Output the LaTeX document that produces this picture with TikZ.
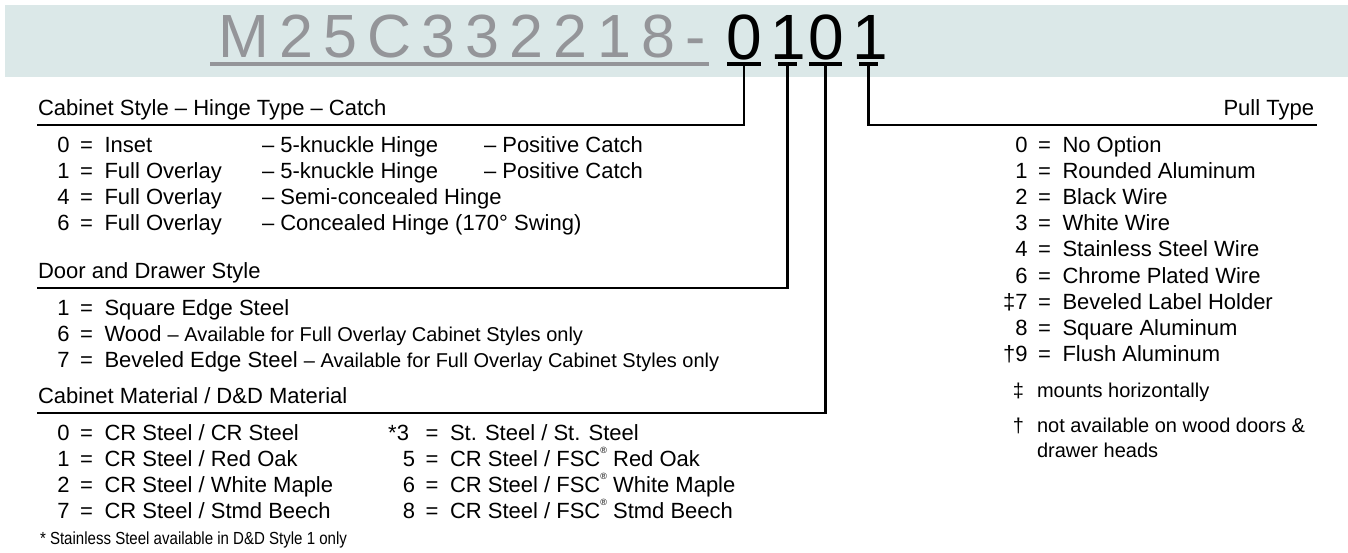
\documentclass[tikz,border=0pt]{standalone}
\usepackage{fontspec}
\setmainfont{Liberation Sans}
\definecolor{bandcol}{RGB}{219,232,232}
\definecolor{titlegrey}{RGB}{148,149,153}
\newcommand\regmark{\raisebox{0.55em}{\fontsize{9}{9}\selectfont ®}}
\newcommand\optrow[5]{%
  \node[num] (#1n) at (#2,#3) {#4};
  \node[eqs] (#1e) at (#2+17,#3) {=};
  \node[main] (#1t) at (#2+35,#3) {#5};
}
\begin{document}
\begin{tikzpicture}[x=1pt,y=-1pt,
  every node/.style={inner sep=0pt, outer sep=0pt},
  main/.style={font=\fontsize{22}{26}\selectfont, anchor=base west},
  num/.style={font=\fontsize{22}{26}\selectfont, anchor=base east},
  eqs/.style={font=\fontsize{22}{26}\selectfont, anchor=base},
  small/.style={font=\fontsize{20}{25}\selectfont, anchor=base west},
  head/.style={font=\fontsize{22}{26}\selectfont, anchor=base west},
  conn/.style={line width=2.8pt, line join=miter},
  bar/.style={fill=black, minimum height=4.3pt},
  big/.style={font=\fontsize{61}{70}\selectfont, anchor=base},
  bigdigit/.style={font=\fontsize{64}{72}\selectfont, anchor=base}
]
\useasboundingbox (0,0) rectangle (1348,552);
\fill[bandcol] (5,5) rectangle (1348,77);

% title
\node[big, anchor=base west, text=titlegrey] (title) at (218.5,57)
  {\makebox[487.5pt][l]{M\hfill2\hfill5\hfill C\hfill3\hfill3\hfill2\hfill2\hfill1\hfill8\hfill-}};
\fill[titlegrey] (210,61.5) rectangle (709,65.5);
\node[bigdigit] (d1) at (744,59) {0};
\node[bigdigit] (d2) at (788,59) {1};
\node[bigdigit] (d3) at (826,59) {0};
\node[bigdigit] (d4) at (870,59) {1};

% bars
\node[bar, minimum width=34pt] (b1) at (744,64) {};
\node[bar, minimum width=19pt] (b2) at (787.5,64) {};
\node[bar, minimum width=33pt] (b3) at (825.5,64) {};
\node[bar, minimum width=19pt] (b4) at (868.5,64) {};

% connectors
\coordinate (e1) at (37,125);
\coordinate (e2) at (37,288);
\coordinate (e3) at (37,413);
\coordinate (e4) at (1317,125);
\draw[conn] (b1.center) |- (e1);
\draw[conn] (b2.center) |- (e2);
\draw[conn] (b3.center) |- (e3);
\draw[conn] (b4.center) |- (e4);

% headings
\node[head] (h1) at (38,115) {Cabinet Style – Hinge Type – Catch};
\node[head] (h2) at (38,278) {Door and Drawer Style};
\node[head] (h3) at (38,403) {Cabinet Material / D\&D Material};
\node[head, anchor=base east] (h4) at (1314,115) {Pull Type};

% cabinet style
\optrow{ca}{69.5}{152}{0}{Inset}
\optrow{cb}{69.5}{178}{1}{Full Overlay}
\optrow{cc}{69.5}{204}{4}{Full Overlay}
\optrow{cd}{69.5}{230}{6}{Full Overlay}
\node[main] (ca2) at (262,152) {– 5-knuckle Hinge};
\node[main] (cb2) at (262,178) {– 5-knuckle Hinge};
\node[main] (cc2) at (262,204) {– Semi-concealed Hinge};
\node[main] (cd2) at (262,230) {– Concealed Hinge (170° Swing)};
\node[main] (ca3) at (484,152) {– Positive Catch};
\node[main] (cb3) at (484,178) {– Positive Catch};

% door and drawer style
\optrow{da}{69.5}{315}{1}{Square Edge Steel}
\optrow{db}{69.5}{341}{6}{Wood {\fontsize{20}{25}\selectfont – Available for Full Overlay Cabinet Styles only}}
\optrow{dc}{69.5}{367}{7}{Beveled Edge Steel {\fontsize{20}{25}\selectfont – Available for Full Overlay Cabinet Styles only}}

% cabinet material
\optrow{ma}{69.5}{440}{0}{CR Steel / CR Steel}
\optrow{mb}{69.5}{466}{1}{CR Steel / Red Oak}
\optrow{mc}{69.5}{492}{2}{CR Steel / White Maple}
\optrow{md}{69.5}{518}{7}{CR Steel / Stmd Beech}
\node[num] (mea) at (409,440) {*3};
\node[eqs] (mee) at (432,440) {=};
\node[main] (met) at (450,440) {St. Steel / St. Steel};
\optrow{mf}{415}{466}{5}{CR Steel / FSC\regmark\ Red Oak}
\optrow{mg}{415}{492}{6}{CR Steel / FSC\regmark\ White Maple}
\optrow{mh}{415}{518}{8}{CR Steel / FSC\regmark\ Stmd Beech}
\node[anchor=base west, font=\fontsize{17.5}{22}\selectfont] (foot) at (40,544)
  {\scalebox{0.86}[1]{* Stainless Steel available in D\&D Style 1 only}};

% pull type
\optrow{pa}{1027.5}{152}{0}{No Option}
\optrow{pb}{1027.5}{178.2}{1}{Rounded Aluminum}
\optrow{pc}{1027.5}{204.4}{2}{Black Wire}
\optrow{pd}{1027.5}{230.6}{3}{White Wire}
\optrow{pe}{1027.5}{256.8}{4}{Stainless Steel Wire}
\optrow{pf}{1027.5}{283}{6}{Chrome Plated Wire}
\optrow{pg}{1027.5}{309.2}{‡7}{Beveled Label Holder}
\optrow{ph}{1027.5}{335.4}{8}{Square Aluminum}
\optrow{pi}{1027.5}{361.6}{†9}{Flush Aluminum}
\node[small, anchor=base east] (n1s) at (1024,397) {‡};
\node[small] (n1t) at (1037,397) {mounts horizontally};
\node[small, anchor=base east] (n2s) at (1024,432) {†};
\node[small] (n2t) at (1037,432) {not available on wood doors \&};
\node[small] (n3t) at (1037,457) {drawer heads};
\end{tikzpicture}
\end{document}
